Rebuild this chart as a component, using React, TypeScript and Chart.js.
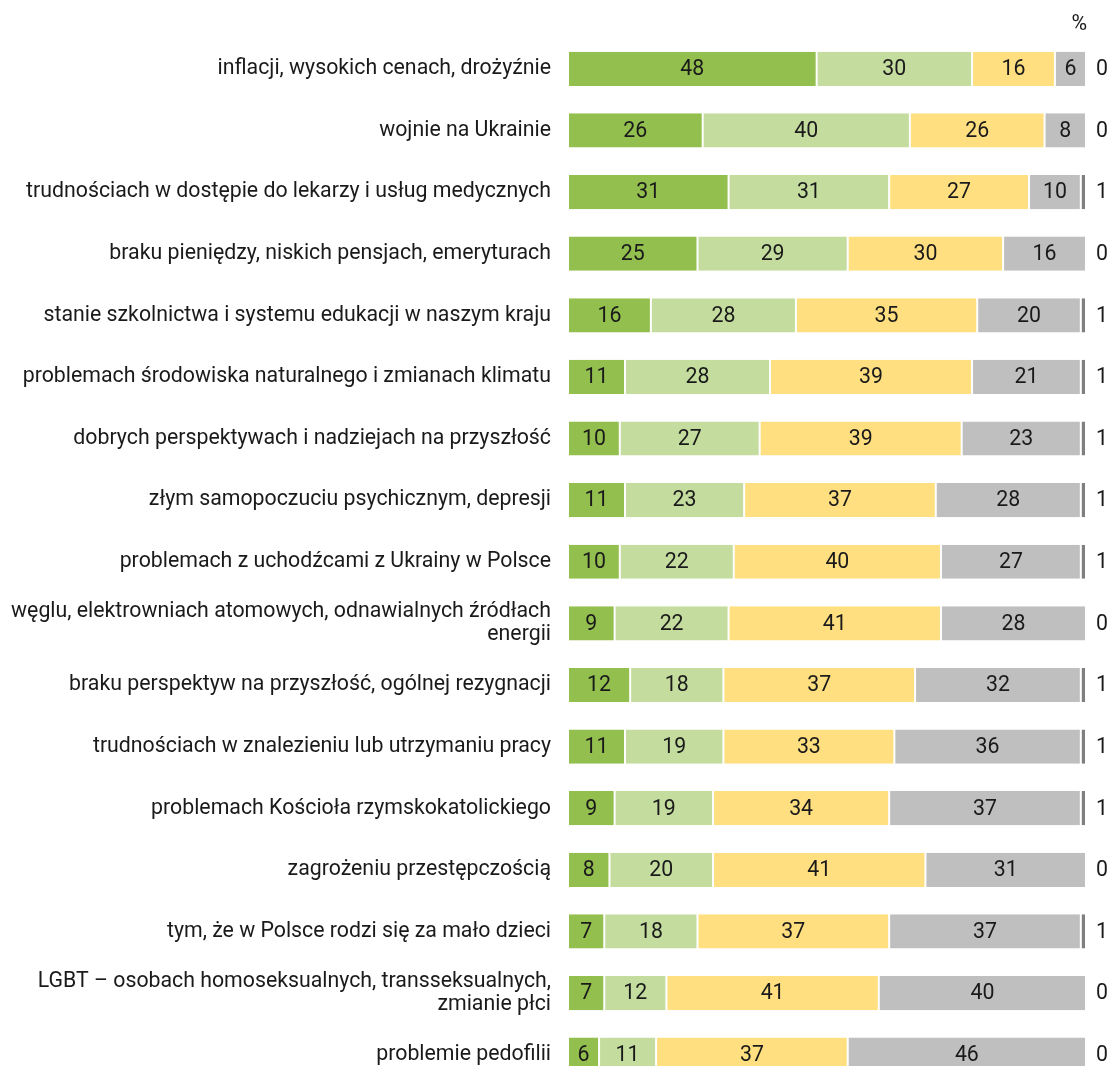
import React, { useEffect, useRef } from "react";
import { Chart, registerables } from "chart.js";

Chart.register(...registerables);

const categories: (string | string[])[] = [
  "inflacji, wysokich cenach, drożyźnie",
  "wojnie na Ukrainie",
  "trudnościach w dostępie do lekarzy i usług medycznych",
  "braku pieniędzy, niskich pensjach, emeryturach",
  "stanie szkolnictwa i systemu edukacji w naszym kraju",
  "problemach środowiska naturalnego i zmianach klimatu",
  "dobrych perspektywach i nadziejach na przyszłość",
  "złym samopoczuciu psychicznym, depresji",
  "problemach z uchodźcami z Ukrainy w Polsce",
  ["węglu, elektrowniach atomowych, odnawialnych źródłach", "energii"],
  "braku perspektyw na przyszłość, ogólnej rezygnacji",
  "trudnościach w znalezieniu lub utrzymaniu pracy",
  "problemach Kościoła rzymskokatolickiego",
  "zagrożeniu przestępczością",
  "tym, że w Polsce rodzi się za mało dzieci",
  ["LGBT – osobach homoseksualnych, transseksualnych,", "zmianie płci"],
  "problemie pedofilii",
];

const series1 = [48, 26, 31, 25, 16, 11, 10, 11, 10, 9, 12, 11, 9, 8, 7, 7, 6];
const series2 = [30, 40, 31, 29, 28, 28, 27, 23, 22, 22, 18, 19, 19, 20, 18, 12, 11];
const series3 = [16, 26, 27, 30, 35, 39, 39, 37, 40, 41, 37, 33, 34, 41, 37, 41, 37];
const series4 = [6, 8, 10, 16, 20, 21, 23, 28, 27, 28, 32, 36, 37, 31, 37, 40, 46];
const series5 = [0, 0, 1, 0, 1, 1, 1, 1, 1, 0, 1, 1, 1, 0, 1, 0, 0];

const colors = ["#92BF4E", "#C4DD9F", "#FFDF80", "#BFBFBF", "#7F7F7F"];
const unitLabel = "%";

const FONT = "Roboto";
const SIZE = 21.3;
const TEXT = "#1a1a1a";

const labelPlugin = {
  id: "barLabels",
  afterDatasetsDraw(chart: any) {
    const ctx = chart.ctx;
    ctx.save();
    ctx.font = `${SIZE}px ${FONT}`;
    ctx.fillStyle = TEXT;
    ctx.textBaseline = "middle";
    chart.data.datasets.forEach((ds: any, di: number) => {
      const meta = chart.getDatasetMeta(di);
      meta.data.forEach((bar: any, i: number) => {
        const v = ds.data[i];
        if (di < 4) {
          if (v <= 0) return;
          ctx.textAlign = "center";
          ctx.fillText(String(v), (bar.x + bar.base) / 2, bar.y + 1);
        } else {
          ctx.textAlign = "left";
          ctx.fillText(String(v), Math.max(bar.x, bar.base) + 10, bar.y + 1);
        }
      });
    });
    ctx.textAlign = "right";
    ctx.fillText(unitLabel, chart.chartArea.right + 1, 25);
    ctx.restore();
  },
};

export default function App() {
  const ref = useRef<HTMLCanvasElement>(null);
  useEffect(() => {
    if (!ref.current) return;
    const data = [series1, series2, series3, series4, series5];
    const chart = new Chart(ref.current, {
      type: "bar",
      data: {
        labels: categories,
        datasets: data.map((d, k) => ({
          data: d,
          backgroundColor: colors[k],
          borderColor: "#ffffff",
          borderWidth: { left: 1, right: 1, top: 0, bottom: 0 },
          borderSkipped: false,
          categoryPercentage: 1,
          barPercentage: 0.555,
        })),
      },
      options: {
        indexAxis: "y",
        animation: false,
        responsive: false,
        devicePixelRatio: 1,
        layout: { padding: { top: 38, bottom: 38.5, left: 0, right: 24 } },
        plugins: { legend: { display: false }, tooltip: { enabled: false } },
        scales: {
          x: { stacked: true, display: false, min: 0, max: 100 },
          y: {
            stacked: true,
            border: { display: false },
            grid: { display: false, drawTicks: false },
            ticks: {
              color: TEXT,
              padding: 17,
              font: { family: FONT, size: SIZE, lineHeight: 1.1 },
            },
            afterFit: (scale: any) => {
              scale.width = 568;
            },
          },
        },
      },
      plugins: [labelPlugin],
    });
    return () => chart.destroy();
  }, []);
  return (
    <div style={{ position: "fixed", left: 0, top: 0, width: 1110, height: 1066, overflow: "hidden", background: "#fff" }}>
      <canvas ref={ref} width={1110} height={1124} style={{ display: "block" }} />
    </div>
  );
}
